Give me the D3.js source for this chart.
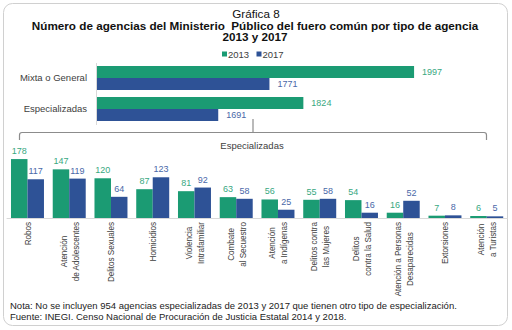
<!DOCTYPE html>
<html>
<head>
<meta charset="utf-8">
<script src="https://cdn.jsdelivr.net/npm/d3@7"></script>
<style>
  body { margin: 0; background: #fff; }
  svg { font-family: "Liberation Sans", Arial, sans-serif; }
</style>
</head>
<body>
<div id="chart"></div>
<script>
const width = 512, height = 330;

// totals by agency type
const years = ["2013", "2017"];
const tipos = ["Mixta o General", "Especializadas"];
const tipos2013 = [1997, 1824];
const tipos2017 = [1771, 1691];

// specialized agencies
const especialidades = ["Robos", "Atención\nde Adolescentes", "Delitos Sexuales", "Homicidios",
  "Violencia\nIntrafamiliar", "Combate\nal Secuestro", "Atención\na Indígenas",
  "Delitos contra\nlas Mujeres", "Delitos\ncontra la Salud", "Atención a Personas\nDesaparecidas",
  "Extorsiones", "Atención\na Turistas"];
const esp2013 = [178, 147, 120, 87, 81, 63, 56, 55, 54, 16, 7, 6];
const esp2017 = [117, 119, 64, 123, 92, 58, 25, 58, 16, 52, 8, 5];

const fill = { "2013": "#1b9b73", "2017": "#2e5296" };
const labelColor = { "2013": "#38a87f", "2017": "#4968a8" };

const svg = d3.select("#chart").append("svg")
    .attr("width", width)
    .attr("height", height);

// frame
svg.append("rect")
    .attr("x", 3.5).attr("y", 3.5)
    .attr("width", 504).attr("height", 322)
    .attr("rx", 9)
    .attr("fill", "#fff")
    .attr("stroke", "#d0d0d0");

// titles (slightly flattened so the three lines fit)
const titles = [
  { text: "Gráfica 8", x: 256, y: 17.5, bold: false },
  { text: "Número de agencias del Ministerio  Público del fuero común por tipo de agencia", x: 255, y: 29.5, bold: true },
  { text: "2013 y 2017", x: 255, y: 40.5, bold: true }
];
titles.forEach(t => {
  svg.append("text")
      .attr("transform", `translate(${t.x},${t.y}) scale(1,0.86)`)
      .attr("text-anchor", "middle")
      .attr("font-size", 11.7)
      .attr("font-weight", t.bold ? "bold" : "normal")
      .attr("fill", "#111")
      .attr("xml:space", "preserve")
      .text(t.text);
});

// legend
const legend = svg.append("g").attr("transform", "translate(222,55)");
years.forEach((yr, i) => {
  const g = legend.append("g").attr("transform", `translate(${i * 34.5},0)`);
  g.append("rect").attr("x", 0).attr("y", -3.5).attr("width", 5).attr("height", 5).attr("fill", fill[yr]);
  g.append("text").attr("x", 6).attr("y", 3).attr("font-size", 9.5).attr("fill", "#404040").text(yr);
});

// top chart: horizontal bars
const xTop = d3.scaleLinear().domain([1500, 2100]).range([96, 480]);
const yTop = d3.scaleBand().domain(tipos).range([62.5, 124.5]).paddingInner(0.226).paddingOuter(0.113);
const ySub = d3.scaleBand().domain(years).range([0, yTop.bandwidth()]);

const topData = tipos.map((t, i) => ({ tipo: t, values: [
  { year: "2013", v: tipos2013[i] }, { year: "2017", v: tipos2017[i] }] }));

const topG = svg.selectAll(".tipo").data(topData).enter().append("g")
    .attr("class", "tipo")
    .attr("transform", d => `translate(0,${yTop(d.tipo)})`);

topG.selectAll("rect").data(d => d.values).enter().append("rect")
    .attr("x", xTop(1500))
    .attr("y", d => ySub(d.year))
    .attr("width", d => xTop(d.v) - xTop(1500))
    .attr("height", ySub.bandwidth())
    .attr("fill", d => fill[d.year]);

topG.selectAll(".val").data(d => d.values).enter().append("text")
    .attr("class", "val")
    .attr("x", d => xTop(d.v) + 8)
    .attr("y", d => ySub(d.year) + ySub.bandwidth() / 2 + 3.3)
    .attr("font-size", 9)
    .attr("fill", d => labelColor[d.year])
    .text(d => d.v);

svg.append("g")
    .attr("transform", `translate(${xTop(1500)},0)`)
    .call(d3.axisLeft(yTop).tickSize(0).tickPadding(9))
    .call(g => g.select(".domain").attr("stroke", "#d9d9d9"))
    .call(g => g.selectAll("text").attr("font-size", 9.5).attr("fill", "#404040")
        .attr("font-family", "Liberation Sans, Arial, sans-serif"));

// bracket pointing from "Especializadas" to the breakdown
const bracket = svg.append("g").attr("fill", "none").attr("stroke", "#8c8c8c").attr("stroke-width", 1.2);
bracket.append("line").attr("x1", 253).attr("x2", 253).attr("y1", 119).attr("y2", 132.5);
bracket.append("path").attr("d", "M19.5,140 V135 Q19.5,132.5 22,132.5 H484 Q486.5,132.5 486.5,135 V140");
svg.append("text").attr("x", 252).attr("y", 149)
    .attr("text-anchor", "middle").attr("font-size", 9.5).attr("fill", "#404040")
    .text("Especializadas");

// bottom chart: vertical bars by specialty
const xBot = d3.scaleBand().domain(especialidades).range([6.6, 507.6]).paddingInner(0.21).paddingOuter(0.105);
const xSub = d3.scaleBand().domain(years).range([0, xBot.bandwidth()]);
const yBot = d3.scaleLinear().domain([0, 200]).range([218, 151.8]);

const botData = especialidades.map((c, i) => ({ cat: c, values: [
  { year: "2013", v: esp2013[i] }, { year: "2017", v: esp2017[i] }] }));

const botG = svg.selectAll(".esp").data(botData).enter().append("g")
    .attr("class", "esp")
    .attr("transform", d => `translate(${xBot(d.cat)},0)`);

botG.selectAll("rect").data(d => d.values).enter().append("rect")
    .attr("x", d => xSub(d.year))
    .attr("y", d => yBot(d.v))
    .attr("width", xSub.bandwidth())
    .attr("height", d => yBot(0) - yBot(d.v))
    .attr("fill", d => fill[d.year]);

botG.selectAll(".val").data(d => d.values).enter().append("text")
    .attr("class", "val")
    .attr("x", d => xSub(d.year) + xSub.bandwidth() / 2)
    .attr("y", d => yBot(d.v) - 5)
    .attr("text-anchor", "middle")
    .attr("font-size", 9)
    .attr("fill", d => labelColor[d.year])
    .text(d => d.v);

// baseline
svg.append("line")
    .attr("x1", 6.6).attr("x2", 507.6)
    .attr("y1", yBot(0) + 0.5).attr("y2", yBot(0) + 0.5)
    .attr("stroke", "#d9d9d9");

// rotated category labels (narrowed along the text), lines centred within the block
botData.forEach(d => {
  const lines = d.cat.split("\n");
  const g = svg.append("g")
      .attr("transform", `translate(${xBot(d.cat) + xBot.bandwidth() / 2},222) rotate(-90) scale(0.85,1)`);
  const texts = lines.map((ln, j) => g.append("text")
      .attr("y", (j - (lines.length - 1) / 2) * 12)
      .attr("dy", "0.35em")
      .attr("text-anchor", "middle")
      .attr("font-size", 9.5)
      .attr("fill", "#404040")
      .text(ln));
  const maxLen = d3.max(texts, t => t.node().getComputedTextLength());
  texts.forEach(t => t.attr("x", -maxLen / 2));
});

// notes
svg.append("text").attr("x", 10).attr("y", 309)
    .attr("font-size", 9.5).attr("fill", "#222")
    .text("Nota: No se incluyen 954 agencias especializadas de 2013 y 2017 que tienen otro tipo de especialización.");
svg.append("text").attr("x", 10).attr("y", 319.5)
    .attr("font-size", 9.5).attr("fill", "#222")
    .text("Fuente: INEGI. Censo Nacional de Procuración de Justicia Estatal 2014 y 2018.");
</script>
</body>
</html>
